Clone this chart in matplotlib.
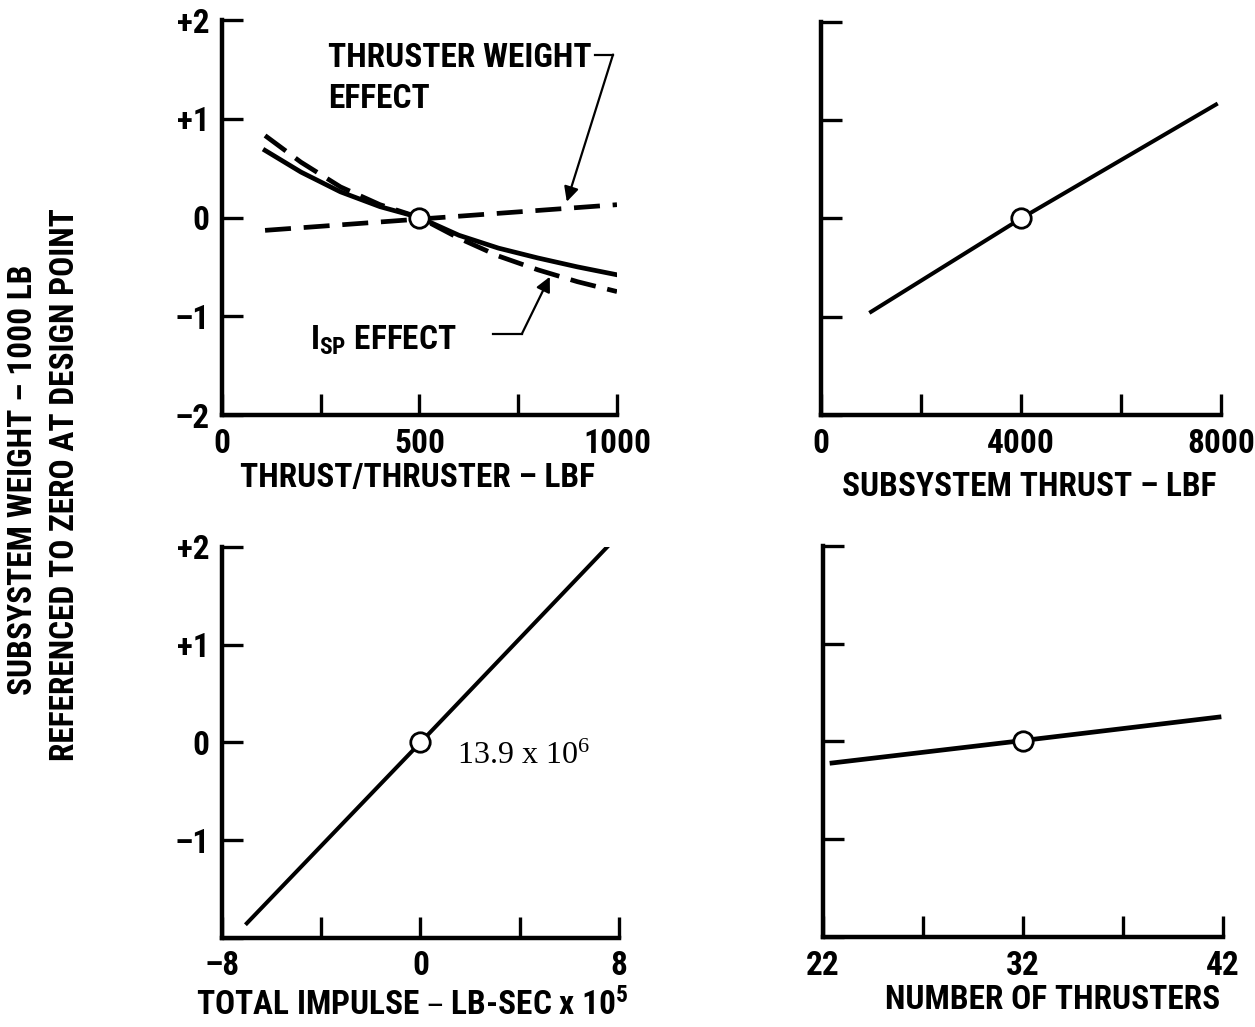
import matplotlib
matplotlib.use("Agg")
import matplotlib.pyplot as plt
from matplotlib import font_manager as fm
import numpy as np

# ---------------- data ----------------
# Top-left: thrust per thruster
tl_x = [109, 200, 300, 400, 500, 600, 700, 800, 900, 1000]
tl_total = [0.68, 0.46, 0.26, 0.11, 0.0, -0.18, -0.31, -0.41, -0.50, -0.58]
tl_isp = [0.83, 0.56, 0.31, 0.13, 0.0, -0.21, -0.39, -0.53, -0.65, -0.75]
tl_tw_x = [109, 1000]
tl_tw = [-0.13, 0.13]
tl_design = (500, 0.0)

# Top-right: subsystem thrust
tr_x = [1000, 4000, 7900]
tr_y = [-0.95, 0.0, 1.16]
tr_design = (4000, 0.0)

# Bottom-left: total impulse (x 1e5)
bl_x = [-7.0, 0.0, 7.6]
bl_y = [-1.85, 0.0, 2.02]
bl_design = (0.0, 0.0)

# Bottom-right: number of thrusters
br_x = [22.45, 32, 41.8]
br_y = [-0.22, 0.01, 0.25]
br_design = (32, 0.01)

tl_xticks = [0, 250, 500, 750, 1000]
tl_xlabels = ["0", "", "500", "", "1000"]
tr_xticks = [0, 2000, 4000, 6000, 8000]
tr_xlabels = ["0", "", "4000", "", "8000"]
bl_xticks = [-8, -4, 0, 4, 8]
bl_xlabels = ["\u20138", "", "0", "", "8"]
br_xticks = [22, 27, 32, 37, 42]
br_xlabels = ["22", "", "32", "", "42"]
yticks = [-2, -1, 0, 1, 2]
tl_ylabels = ["\u20132", "\u20131", "0", "+1", "+2"]
bl_ylabels = ["", "\u20131", "0", "+1", "+2"]

# ---------------- fonts ----------------
names = {f.name for f in fm.fontManager.ttflist}
cond = None
for c in ["Liberation Sans Narrow", "DejaVu Sans Condensed", "Roboto Condensed",
          "Open Sans Condensed", "Arial Narrow"]:
    if c in names:
        cond = c
        break
if cond is None:
    for f in fm.fontManager.ttflist:
        if f.stretch in ("condensed", "semi-condensed", "extra-condensed"):
            cond = f.name
            break
if cond is None:
    cond = "Liberation Sans" if "Liberation Sans" in names else "DejaVu Sans"
serif = "Liberation Serif" if "Liberation Serif" in names else "DejaVu Serif"

plt.rcParams["font.family"] = [cond, "DejaVu Sans"]
plt.rcParams["font.weight"] = "bold"
plt.rcParams["axes.labelweight"] = "bold"
plt.rcParams["mathtext.default"] = "regular"

FS = 24
LW_SPINE = 3.2
LW_LINE = 3.4

fig = plt.figure(figsize=(12.55, 10.27), dpi=100)

def setup(ax, xlim, xticks, xlabels, ylabels):
    ax.set_xlim(*xlim)
    ax.set_ylim(-2, 2)
    for s in ["top", "right"]:
        ax.spines[s].set_visible(False)
    for s in ["left", "bottom"]:
        ax.spines[s].set_linewidth(LW_SPINE)
    ax.set_xticks(xticks)
    ax.set_xticklabels(xlabels)
    ax.set_yticks(yticks)
    ax.set_yticklabels(ylabels)
    ax.tick_params(axis="both", direction="in", length=15, width=2.4,
                   labelsize=FS, pad=9)
    ax.patch.set_alpha(0)

def design(ax, pt):
    ax.plot([pt[0]], [pt[1]], "o", ms=14, mfc="white", mec="black", mew=2.0,
            zorder=5)

def xlabel(ax, text, cx, cy):
    ax.set_xlabel(text, fontsize=FS, fontweight="bold")
    ax.xaxis.set_label_coords(cx, cy)
    ax.xaxis.label.set_verticalalignment("center")

# Top-left
ax1 = fig.add_axes([0.1769, 0.5959, 0.3147, 0.3846])
setup(ax1, (0, 1000), tl_xticks, tl_xlabels, tl_ylabels)
ax1.plot(tl_x, tl_total, "-", color="black", lw=LW_LINE)
ax1.plot(tl_x, tl_isp, color="black", lw=LW_LINE, dashes=(5.5, 2.5))
ax1.plot(tl_tw_x, tl_tw, color="black", lw=LW_LINE, dashes=(5.5, 2.7))
design(ax1, tl_design)
ax1.text(268, 1.41, "THRUSTER WEIGHT\nEFFECT", fontsize=FS, ha="left",
         va="center", linespacing=1.35)
ax1.plot([944, 990], [1.65, 1.65], color="black", lw=1.6)
ax1.annotate("", xy=(873, 0.16), xytext=(990, 1.65),
             arrowprops=dict(arrowstyle="-|>", lw=1.6, color="black",
                             mutation_scale=22, shrinkA=0, shrinkB=0))
ax1.text(223, -1.24, "I$_{SP}$ EFFECT", fontsize=FS, ha="left", va="center")
ax1.plot([686, 759], [-1.18, -1.18], color="black", lw=1.6)
ax1.annotate("", xy=(830, -0.60), xytext=(759, -1.18),
             arrowprops=dict(arrowstyle="-|>", lw=1.6, color="black",
                             mutation_scale=22, shrinkA=0, shrinkB=0))
xlabel(ax1, "THRUST/THRUSTER \u2013 LBF", 0.496, -0.159)

# Top-right
ax2 = fig.add_axes([0.6542, 0.5959, 0.3187, 0.3827])
setup(ax2, (0, 8000), tr_xticks, tr_xlabels, [""] * 5)
ax2.plot(tr_x, tr_y, "-", color="black", lw=LW_LINE * 0.85)
design(ax2, tr_design)
xlabel(ax2, "SUBSYSTEM THRUST \u2013 LBF", 0.52, -0.183)

# Bottom-left
ax3 = fig.add_axes([0.1769, 0.0867, 0.3163, 0.3807])
setup(ax3, (-8, 8), bl_xticks, bl_xlabels, bl_ylabels)
ax3.plot(bl_x, bl_y, "-", color="black", lw=LW_LINE * 0.85)
design(ax3, bl_design)
ax3.text(1.48, -0.14, "13.9 x 10$^{6}$", fontsize=23, family=serif,
         fontweight="normal", ha="left", va="center")
xlabel(ax3, "TOTAL IMPULSE \u2013 LB-SEC x 10$^{5}$", 0.479, -0.171)

# Bottom-right
ax4 = fig.add_axes([0.6558, 0.0876, 0.3187, 0.3808])
setup(ax4, (22, 42), br_xticks, br_xlabels, [""] * 5)
ax4.plot(br_x, br_y, "-", color="black", lw=LW_LINE)
design(ax4, br_design)
xlabel(ax4, "NUMBER OF THRUSTERS", 0.573, -0.161)

# Shared y label
fig.text(23 / 1255, 1 - 480 / 1027, "SUBSYSTEM WEIGHT \u2013 1000 LB",
         rotation=90, fontsize=FS, ha="center", va="center")
fig.text(65 / 1255, 1 - 485 / 1027, "REFERENCED TO ZERO AT DESIGN POINT",
         rotation=90, fontsize=FS, ha="center", va="center")

fig.savefig("out.png", dpi=100)
